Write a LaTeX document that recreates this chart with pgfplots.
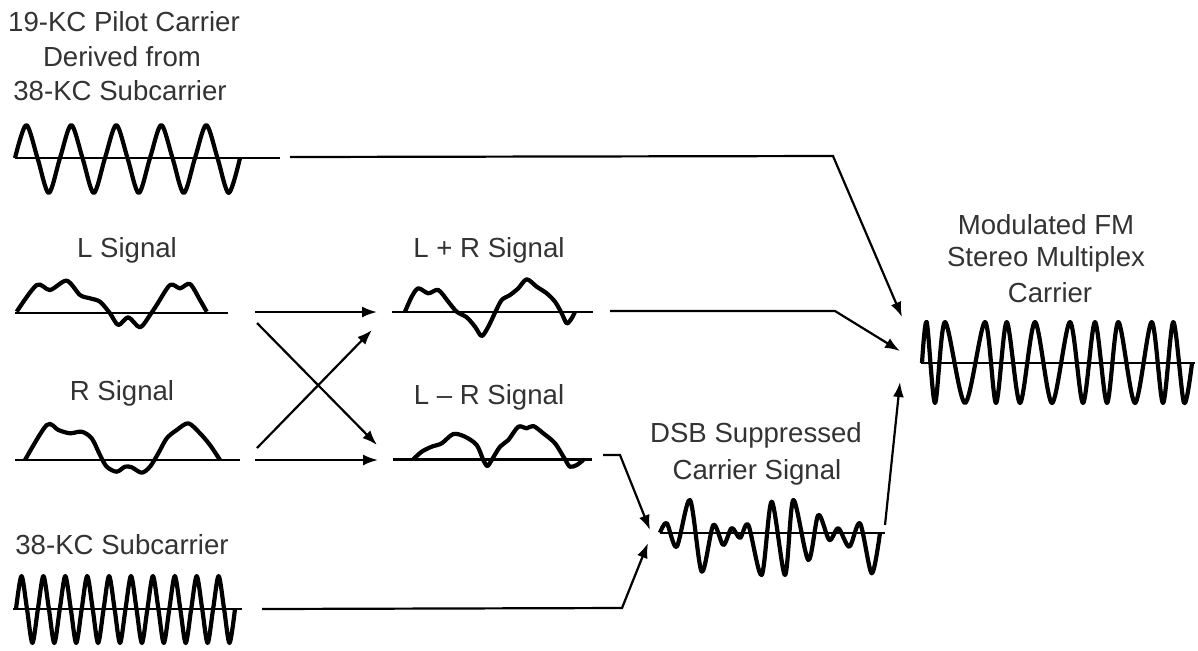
\documentclass[border=0pt]{standalone}
\usepackage{fontspec}
\setmainfont{Liberation Sans}
\usepackage{pgfplots}
\pgfplotsset{compat=1.18}
\usetikzlibrary{arrows.meta}
\begin{document}
\begin{tikzpicture}[lab/.style={font=\fontsize{13.8pt}{17pt}\selectfont, text=black!80, align=center, inner sep=0pt}]
\begin{axis}[x=0.5pt, y=0.5pt, y dir=reverse, xmin=0, xmax=1198, ymin=0, ymax=650,
  hide axis, clip=false,
  wave/.style={black, line width=2.1pt, smooth, no markers, line join=round},
  base/.style={black, line width=1.2pt, no markers},
  arr/.style={black, line width=1.1pt, no markers, sharp plot, -{Latex[length=7.5pt,width=5.5pt]}}]
\addplot[draw=none] coordinates {(0,0) (1198,650)};
% ---- baselines
\addplot[base] coordinates {(15,158) (280,158)};
\addplot[base] coordinates {(15,313) (228,313)};
\addplot[base] coordinates {(15,460) (240,460)};
\addplot[base] coordinates {(392,311.7) (593,311.7)};
\addplot[base] coordinates {(393,459.3) (592,459.3)};
\addplot[base] coordinates {(13,609) (242,609)};
\addplot[base] coordinates {(660,533) (885,533)};
\addplot[base] coordinates {(921,363) (1195,363)};
% ---- 19-KC pilot
\addplot[wave] coordinates {(15,158)(26.25,125)(37.5,158)(48.75,193)(60,158)(71.25,125)(82.5,158)(93.75,193)(105,158)(116.25,125)(127.5,158)(138.75,193)(150,158)(161.25,125)(172.5,158)(183.75,193)(195,158)(206.25,125)(217.5,158)(228.75,193)(240,158)};
% ---- L signal
\addplot[wave] coordinates {(16.7,311.7)(36.7,285)(50,290)(66.7,280.7)(80,295)(90,298.3)(100,301.7)(110,313.3)(118.3,325)(128.3,317.3)(140,327.3)(150,315)(156.7,305)(170,285)(180,288.3)(190,284)(200,300)(206.7,311.7)};
% ---- R signal
\addplot[wave] coordinates {(25,460)(46.7,425)(58.3,430)(70,433.3)(81.7,431.7)(91.7,438.3)(100,455)(106.7,466.7)(116.7,471.7)(125,466.7)(131.7,467.3)(141.7,472.7)(150,466.7)(158.3,453.3)(166.7,438.3)(176.7,430)(188.3,423.3)(200,433.3)(210,445)(220,460)};
% ---- L+R
\addplot[wave] coordinates {(405,311.7)(411.7,296.7)(418.3,288.3)(428.3,293.3)(438.3,290)(448.3,301.7)(456.7,311.7)(466.7,317.3)(475,326.7)(481.7,336)(488.3,326.7)(495,312.7)(501.7,300)(510,295)(518.3,288.3)(526.7,279.3)(536.7,286.7)(546.7,293.3)(555,301.7)(561.7,313.3)(566.7,323.3)(571.7,318.3)(575,311.7)};
% ---- L-R
\addplot[wave] coordinates {(413.3,459.3)(421.7,451.7)(431.7,446.7)(441.7,443.3)(453.3,434)(465,436.7)(476.7,445)(483.3,460)(487.3,466)(491.7,460)(500,446.7)(508.3,440)(518.3,426.7)(526.7,428.3)(533.3,426)(543.3,433.3)(555,443.3)(565,459.3)(570,466.7)(576.7,465)(583.3,460)};
% ---- 38-KC subcarrier
\addplot[wave] coordinates {(16,609)(21.5,576)(27,609)(32.4,643)(37.9,609)(43.4,576)(48.9,609)(54.3,643)(59.8,609)(65.3,576)(70.8,609)(76.2,643)(81.7,609)(87.2,576)(92.7,609)(98.1,643)(103.6,609)(109.1,576)(114.6,609)(120.0,643)(125.5,609)(131.0,576)(136.5,609)(141.9,643)(147.4,609)(152.9,576)(158.4,609)(163.8,643)(169.3,609)(174.8,576)(180.3,609)(185.7,643)(191.2,609)(196.7,576)(202.2,609)(207.6,643)(213.1,609)(218.6,576)(224.1,609)(229.5,643)(235,609)};
% ---- DSB suppressed carrier
\addplot[wave] coordinates {(660,532.7)(666.7,523)(676.7,546.7)(690,500)(701.7,571.7)(713.3,525)(723.3,545)(731.7,528)(740,538)(748.3,525)(761.7,575)(771.7,501.7)(785,575)(793.3,500)(808.3,560)(818.3,515)(829.3,540)(838.3,528.3)(849.3,546.7)(860,523.3)(871.7,573.3)(880,532.7)};
% ---- FM multiplex carrier
\addplot[wave] coordinates {(922,363)(926.7,322)(935,403)(945,322)(965,403)(985,322)(996,403)(1006.7,322)(1020,403)(1035,322)(1052,403)(1070,322)(1083,403)(1095,322)(1107,403)(1118.3,322)(1135,403)(1151.7,322)(1163,403)(1173.3,322)(1184,403)(1192,363)};
% ---- arrows
\addplot[arr] coordinates {(290,157)(833,156)(902,317)};
\addplot[arr] coordinates {(610,311)(835,311)(900,351)};
\addplot[arr] coordinates {(255,312)(377,312)};
\addplot[arr] coordinates {(257,323)(377,445)};
\addplot[arr] coordinates {(257,448)(372,330)};
\addplot[arr] coordinates {(255,460)(378,460)};
\addplot[arr] coordinates {(603,455)(620,455)(650,530)};
\addplot[arr] coordinates {(262,609)(622,608)(648,543)};
\addplot[arr] coordinates {(885,525)(900,382)};
% ---- labels
\node[lab] at (axis cs:124,22) {19-KC Pilot Carrier};
\node[lab] at (axis cs:122,57) {Derived from};
\node[lab] at (axis cs:120,91) {38-KC Subcarrier};
\node[lab] at (axis cs:127,250) {L Signal};
\node[lab] at (axis cs:122,393) {R Signal};
\node[lab] at (axis cs:489,250) {L + R Signal};
\node[lab] at (axis cs:489,397) {L -- R Signal};
\node[lab] at (axis cs:122,545) {38-KC Subcarrier};
\node[lab] at (axis cs:756,435) {DSB Suppressed};
\node[lab] at (axis cs:757,472) {Carrier Signal};
\node[lab] at (axis cs:1046,225) {Modulated FM};
\node[lab] at (axis cs:1046,259) {Stereo Multiplex};
\node[lab] at (axis cs:1050,293) {Carrier};
\end{axis}
\end{tikzpicture}
\end{document}
